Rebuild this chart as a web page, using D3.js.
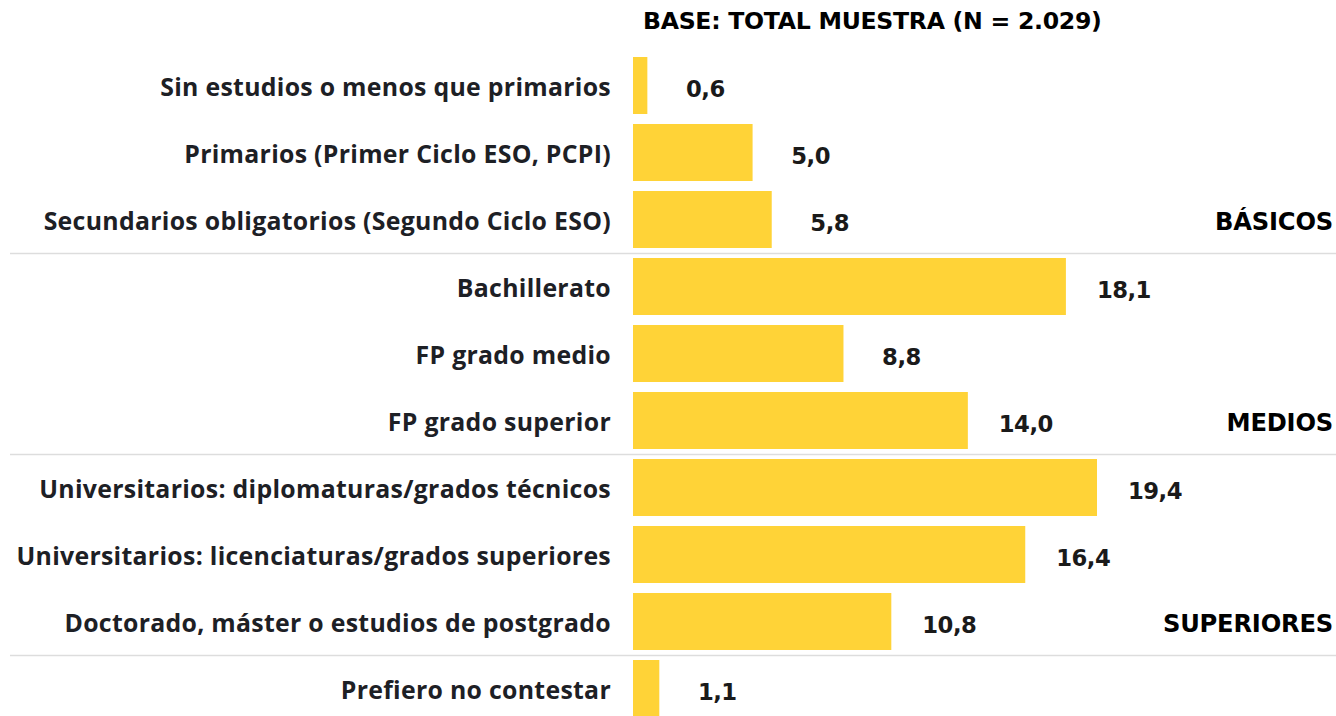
<!DOCTYPE html>
<html>
<head>
<meta charset="utf-8">
<script src="https://cdn.jsdelivr.net/npm/d3@7"></script>
<style>
  html, body { margin: 0; padding: 0; background: #fff; }
  svg { display: block; }
</style>
</head>
<body>
<svg id="chart" width="1336" height="716"></svg>
<script>
// Nivel de estudios (%), base: total muestra
const categories = [
  "Sin estudios o menos que primarios",
  "Primarios (Primer Ciclo ESO, PCPI)",
  "Secundarios obligatorios (Segundo Ciclo ESO)",
  "Bachillerato",
  "FP grado medio",
  "FP grado superior",
  "Universitarios: diplomaturas/grados técnicos",
  "Universitarios: licenciaturas/grados superiores",
  "Doctorado, máster o estudios de postgrado",
  "Prefiero no contestar"
];
const values = [0.6, 5.0, 5.8, 18.1, 8.8, 14.0, 19.4, 16.4, 10.8, 1.1];
// Groups: label, and the last category of each group
const groupLabels = ["BÁSICOS", "MEDIOS", "SUPERIORES"];
const groupEnds = [
  "Secundarios obligatorios (Segundo Ciclo ESO)",
  "FP grado superior",
  "Doctorado, máster o estudios de postgrado"
];
const title = "BASE: TOTAL MUESTRA (N = 2.029)";

const W = 1336;
const svg = d3.select("#chart");

const x = d3.scaleLinear().domain([0, 19.4]).range([633, 1097]);
const y = d3.scaleBand().domain(categories).range([57, 717]).paddingInner(10 / 67).paddingOuter(0);
const mid = d => y(d) + y.bandwidth() / 2;

const fmt = v => d3.format(".1f")(v).replace(".", ",");
const textFont = "'Open Sans', 'Noto Sans', sans-serif";
const heavyFont = "'DejaVu Sans', 'Noto Sans', sans-serif";

// scale a group's font size so its widest member spans `target` px
function fitSize(sel, target, ls) {
  sel.attr("letter-spacing", ls);
  let wMax = 0;
  sel.each(function () { wMax = Math.max(wMax, this.getComputedTextLength()); });
  if (!wMax) return;
  const fs = parseFloat(sel.attr("font-size"));
  sel.attr("font-size", (fs * target / wMax).toFixed(2));
}

// separators between groups
groupEnds.forEach(c => {
  const i = categories.indexOf(c);
  if (i < categories.length - 1) {
    const yy = Math.round((y(c) + y.bandwidth() + y(categories[i + 1])) / 2) + 0.5;
    svg.append("line")
      .attr("x1", 10).attr("x2", W)
      .attr("y1", yy).attr("y2", yy)
      .attr("stroke", "#dddddd").attr("stroke-width", 1.5);
  }
});

// title
const titleSel = svg.append("text")
  .attr("x", 643).attr("y", 29)
  .attr("font-family", heavyFont).attr("font-weight", 700)
  .attr("font-size", 22).attr("fill", "#000")
  .text(title);
fitSize(titleSel, 458, -0.3);

// bars
svg.selectAll("rect.bar").data(categories).join("rect")
  .attr("class", "bar")
  .attr("x", x(0))
  .attr("y", d => y(d))
  .attr("width", (d, i) => x(values[i]) - x(0))
  .attr("height", y.bandwidth())
  .attr("fill", "#ffd337");

// category labels
const catSel = svg.selectAll("text.cat").data(categories).join("text")
  .attr("class", "cat")
  .attr("x", 611)
  .attr("y", d => mid(d) + 10)
  .attr("text-anchor", "end")
  .attr("font-family", textFont).attr("font-weight", 700)
  .attr("font-size", 23).attr("fill", "#1d2025")
  .text(d => d);
fitSize(catSel, 596, 0.3);

// value labels
const valSel = svg.selectAll("text.val").data(categories).join("text")
  .attr("class", "val")
  .attr("x", (d, i) => x(values[i]) + 58)
  .attr("y", d => mid(d) + 11)
  .attr("text-anchor", "middle")
  .attr("font-family", heavyFont).attr("font-weight", 700)
  .attr("font-size", 22).attr("fill", "#1a1a1a")
  .text((d, i) => fmt(values[i]));
fitSize(valSel, 54, -0.5);

// group labels
const grpSel = svg.selectAll("text.grp").data(groupLabels).join("text")
  .attr("class", "grp")
  .attr("x", 1333)
  .attr("y", (d, i) => mid(groupEnds[i]) + 10.5)
  .attr("text-anchor", "end")
  .attr("font-family", heavyFont).attr("font-weight", 700)
  .attr("font-size", 22).attr("fill", "#000")
  .text(d => d);
fitSize(grpSel, 170, -0.2);
</script>
</body>
</html>
